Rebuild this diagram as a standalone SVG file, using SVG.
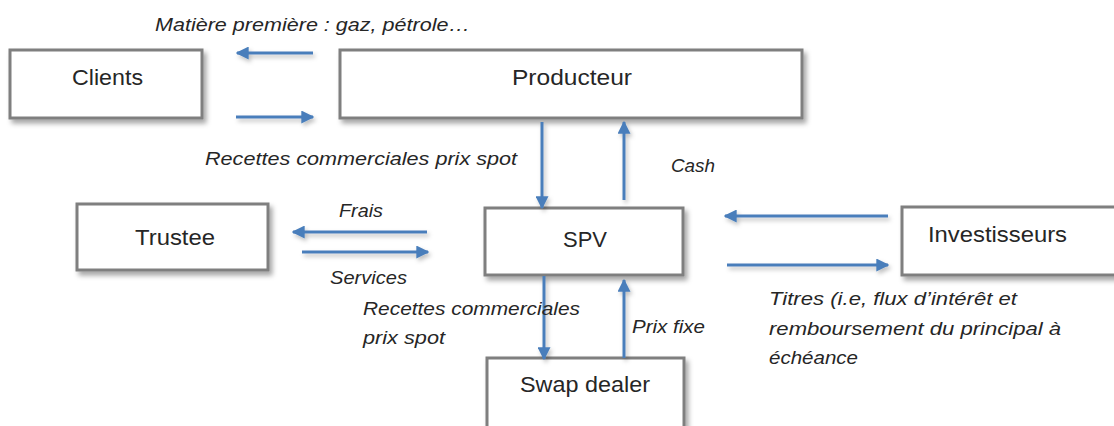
<svg xmlns="http://www.w3.org/2000/svg" width="1114" height="426" viewBox="0 0 1114 426">
  <defs>
    <filter id="shadow" x="-10%" y="-20%" width="130%" height="160%">
      <feDropShadow dx="3" dy="4" stdDeviation="2.5" flood-color="#000" flood-opacity="0.35"/>
    </filter>
    <!-- user-space region so straight lines (zero-width bbox) still render -->
    <filter id="lineShadow" filterUnits="userSpaceOnUse" x="0" y="0" width="1114" height="426">
      <feDropShadow dx="2" dy="3" stdDeviation="2" flood-color="#000" flood-opacity="0.25"/>
    </filter>
    <marker id="head" viewBox="0 0 10 10" refX="9" refY="5" markerWidth="13" markerHeight="13" markerUnits="userSpaceOnUse" orient="auto">
      <path d="M0,0 L10,5 L0,10 z" fill="#4a7ebb"/>
    </marker>
  </defs>
  <style>
    .box { fill: #ffffff; stroke: #7f7f7f; stroke-width: 3; filter: url(#shadow); }
    .node { font-family: "Liberation Sans", Arial, sans-serif; font-size: 22px; fill: #262626; }
    .lbl { font-family: "Liberation Sans", Arial, sans-serif; font-size: 19px; font-style: italic; fill: #262626; }
    .arrow { stroke: #4a7ebb; stroke-width: 3; fill: none; marker-end: url(#head); }
  </style>

  <rect width="1114" height="426" fill="#ffffff"/>

  <g id="clients">
    <rect class="box" x="10" y="50" width="192" height="68"/>
    <text class="node" x="72" y="85" textLength="71" lengthAdjust="spacingAndGlyphs">Clients</text>
  </g>
  <g id="producteur">
    <rect class="box" x="340" y="50" width="462" height="68"/>
    <text class="node" x="512" y="85" textLength="120" lengthAdjust="spacingAndGlyphs">Producteur</text>
  </g>
  <g id="trustee">
    <rect class="box" x="77" y="204" width="191" height="66"/>
    <text class="node" x="135" y="245" textLength="80" lengthAdjust="spacingAndGlyphs">Trustee</text>
  </g>
  <g id="spv">
    <rect class="box" x="485" y="208" width="198" height="67"/>
    <text class="node" x="563" y="247" textLength="44" lengthAdjust="spacingAndGlyphs">SPV</text>
  </g>
  <g id="investisseurs">
    <rect class="box" x="902" y="207" width="230" height="68"/>
    <text class="node" x="928" y="242" textLength="139" lengthAdjust="spacingAndGlyphs">Investisseurs</text>
  </g>
  <g id="swap-dealer">
    <rect class="box" x="487" y="358" width="197" height="80"/>
    <text class="node" x="520" y="392" textLength="130" lengthAdjust="spacingAndGlyphs">Swap dealer</text>
  </g>

  <g id="connectors" filter="url(#lineShadow)">
    <line class="arrow" x1="313" y1="53" x2="237" y2="53"/>
    <line class="arrow" x1="236" y1="117" x2="313" y2="117"/>
    <line class="arrow" x1="542" y1="122" x2="542" y2="208"/>
    <line class="arrow" x1="624" y1="200" x2="624" y2="122"/>
    <line class="arrow" x1="427" y1="232" x2="293" y2="232"/>
    <line class="arrow" x1="302" y1="252" x2="428" y2="252"/>
    <line class="arrow" x1="888" y1="216" x2="725" y2="216"/>
    <line class="arrow" x1="727" y1="265" x2="888" y2="265"/>
    <line class="arrow" x1="544" y1="276" x2="544" y2="359"/>
    <line class="arrow" x1="624" y1="358" x2="624" y2="280"/>
  </g>

  <g id="labels">
    <text class="lbl" x="155" y="31" textLength="315" lengthAdjust="spacingAndGlyphs">Matière première : gaz, pétrole…</text>
    <text class="lbl" x="205" y="165" textLength="312" lengthAdjust="spacingAndGlyphs">Recettes commerciales prix spot</text>
    <text class="lbl" x="671" y="172" textLength="44" lengthAdjust="spacingAndGlyphs">Cash</text>
    <text class="lbl" x="339" y="217" textLength="44" lengthAdjust="spacingAndGlyphs">Frais</text>
    <text class="lbl" x="330" y="284" textLength="77" lengthAdjust="spacingAndGlyphs">Services</text>
    <text class="lbl" x="363" y="315" textLength="217" lengthAdjust="spacingAndGlyphs">Recettes commerciales</text>
    <text class="lbl" x="363" y="344" textLength="82" lengthAdjust="spacingAndGlyphs">prix spot</text>
    <text class="lbl" x="632" y="333" textLength="73" lengthAdjust="spacingAndGlyphs">Prix fixe</text>
    <text class="lbl" x="769" y="305" textLength="248" lengthAdjust="spacingAndGlyphs">Titres (i.e, flux d’intérêt et</text>
    <text class="lbl" x="769" y="335" textLength="292" lengthAdjust="spacingAndGlyphs">remboursement du principal à</text>
    <text class="lbl" x="769" y="364" textLength="89" lengthAdjust="spacingAndGlyphs">échéance</text>
  </g>
</svg>
